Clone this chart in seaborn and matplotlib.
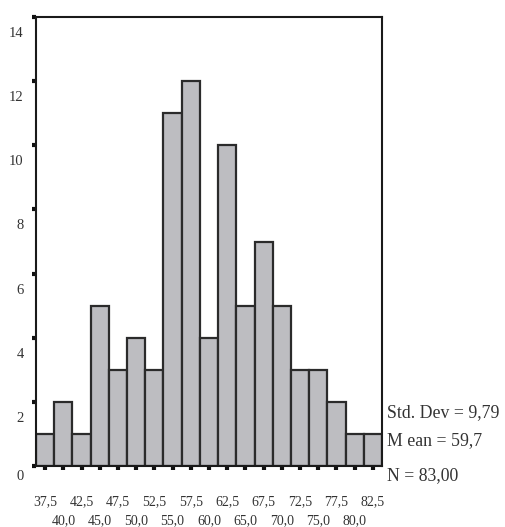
import numpy as np
import pandas as pd
import matplotlib
matplotlib.use('Agg')
import matplotlib.pyplot as plt
import matplotlib.transforms as mtransforms
import seaborn as sns

# Data (bin centres and counts)
bin_centers = [37.5, 40.0, 42.5, 45.0, 47.5, 50.0, 52.5, 55.0, 57.5, 60.0,
               62.5, 65.0, 67.5, 70.0, 72.5, 75.0, 77.5, 80.0, 82.5]
counts = [1, 2, 1, 5, 3, 4, 3, 11, 12, 4, 10, 5, 7, 5, 3, 3, 2, 1, 1]
y_ticks = [0, 2, 4, 6, 8, 10, 12, 14]
stats_lines = ['Std. Dev = 9,79', 'M ean = 59,7', 'N = 83,00']

df = pd.DataFrame({'center': bin_centers, 'count': counts})
bin_width = 2.5
edges = [c - bin_width / 2 for c in bin_centers] + [bin_centers[-1] + bin_width / 2]

sns.set_style('white')
plt.rcParams['font.family'] = ['Liberation Serif', 'DejaVu Serif']
text_color = '#333333'

fig = plt.figure(figsize=(5.05, 5.27), dpi=100)
ax = fig.add_axes([0.0713, 0.1157, 0.6851, 0.852])

sns.histplot(data=df, x='center', weights='count', bins=edges, ax=ax,
             color='#bdbdc1', edgecolor='#2b2b2b', linewidth=1.6, alpha=1)

ax.set_xlim(edges[0], edges[-1])
ax.set_ylim(0, 14)
ax.set_xlabel('')
ax.set_ylabel('')

for side in ['left', 'right', 'top', 'bottom']:
    ax.spines[side].set_visible(True)
    ax.spines[side].set_color('#1a1a1a')
    ax.spines[side].set_linewidth(1.5)

# y ticks: square marks, labels hung below the mark
ax.set_yticks(y_ticks)
ax.set_yticklabels([str(v) for v in y_ticks])
ax.tick_params(axis='y', direction='out', length=3, width=3, color='#111111',
               labelsize=10.5, labelcolor=text_color, pad=6, left=True)
for lbl, v in zip(ax.get_yticklabels(), y_ticks):
    dy = -9 / 100 if v == 0 else -15 / 100
    lbl.set_transform(lbl.get_transform() +
                      mtransforms.ScaledTranslation(0, dy, fig.dpi_scale_trans))

# x ticks: every bin centre, labels alternating in two rows
ax.set_xticks(bin_centers)
ax.set_xticklabels([f'{c:.1f}'.replace('.', ',') for c in bin_centers])
ax.tick_params(axis='x', direction='out', length=3, width=3, color='#111111',
               labelsize=10, labelcolor=text_color, pad=18, bottom=True)
for i, lbl in enumerate(ax.get_xticklabels()):
    if i % 2 == 1:
        lbl.set_transform(lbl.get_transform() +
                          mtransforms.ScaledTranslation(0, -19 / 100, fig.dpi_scale_trans))

# summary statistics at the right
for txt, ypix in zip(stats_lines, [413, 441, 476]):
    fig.text(387 / 505, 1 - ypix / 527, txt, fontsize=12.8, color=text_color,
             va='center', ha='left')

fig.savefig('out.png', dpi=100)
